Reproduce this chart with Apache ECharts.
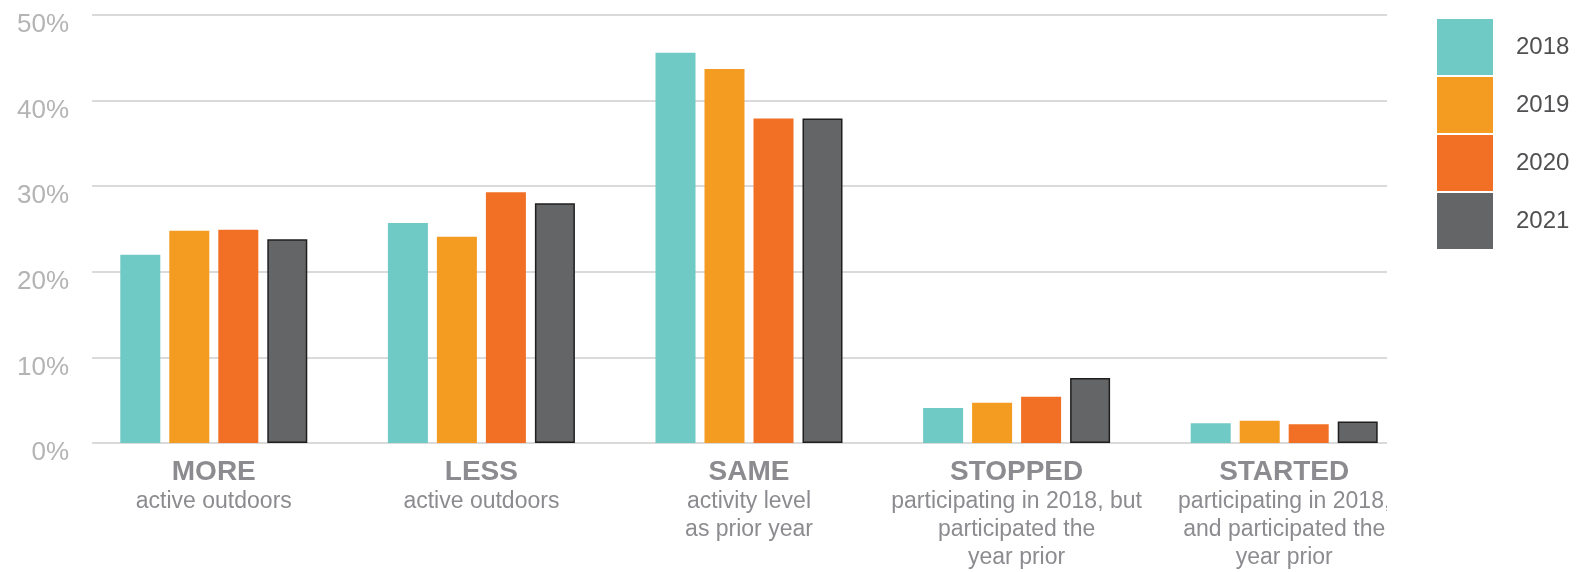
<!DOCTYPE html>
<html>
<head>
<meta charset="utf-8">
<script src="https://cdn.jsdelivr.net/npm/echarts@6/dist/echarts.min.js"></script>
<style>
    html, body { margin: 0; padding: 0; background: #fff; }
    #main { width: 1579px; height: 572px; }
</style>
</head>
<body>
<div id="main"></div>
<script>
// categories (bold title + grey sub lines)
var catTitles = ['MORE', 'LESS', 'SAME', 'STOPPED', 'STARTED'];
var catSubs = [
    ['active outdoors'],
    ['active outdoors'],
    ['activity level', 'as prior year'],
    ['participating in 2018, but', 'participated the', 'year prior'],
    ['participating in 2018,', 'and participated the', 'year prior']
];
var years = ['2018', '2019', '2020', '2021'];
// percent values
var v2018 = [22.0, 25.7, 45.6, 4.1, 2.3];
var v2019 = [24.8, 24.1, 43.7, 4.7, 2.6];
var v2020 = [24.9, 29.3, 37.9, 5.4, 2.2];
var v2021 = [23.8, 28.0, 37.9, 7.6, 2.5];
var yTicks = [0, 10, 20, 30, 40, 50];

var colors = ['#6fc9c4', '#f39c21', '#f26f26', '#646567'];
var font = '"Liberation Sans", Arial, Helvetica, sans-serif';

var chart = echarts.init(document.getElementById('main'));

function barSeries(name, data, i) {
    var s = {
        name: name,
        type: 'bar',
        xAxisIndex: 0,
        yAxisIndex: 0,
        barWidth: 40,
        barGap: '22.5%',
        data: data,
        itemStyle: { color: colors[i] }
    };
    if (i === 3) {
        s.itemStyle.borderColor = '#1f1f1f';
        s.itemStyle.borderWidth = 1.5;
    }
    return s;
}

var option = {
    animation: false,
    textStyle: { fontFamily: font },
    legend: {
        orient: 'vertical',
        left: 1437,
        top: 19,
        padding: 0,
        itemWidth: 56,
        itemHeight: 56,
        itemGap: 2,
        icon: 'rect',
        data: years,
        itemStyle: { borderWidth: 0 },
        textStyle: { fontSize: 24, color: '#505053', padding: [0, 0, 0, 18], fontFamily: font }
    },
    grid: [
        // bars
        { left: 80, right: 161, top: 15, bottom: 129 },
        // grid lines + y labels
        { left: 92, right: 192, top: 15, bottom: 129 }
    ],
    xAxis: [
        {
            type: 'category',
            gridIndex: 0,
            data: catTitles,
            axisLine: { show: false },
            axisTick: { show: false },
            axisLabel: {
                interval: 0,
                margin: 13,
                align: 'center',
                formatter: function (val, idx) {
                    var s = '{t|' + val + '}';
                    catSubs[idx].forEach(function (line) { s += '\n{s|' + line + '}'; });
                    return s;
                },
                rich: {
                    t: { fontSize: 28, fontWeight: 'bold', color: '#8c8b8f', lineHeight: 32, align: 'center', fontFamily: font },
                    s: { fontSize: 23, color: '#8c8b8f', lineHeight: 28, align: 'center', fontFamily: font }
                }
            }
        },
        { type: 'category', gridIndex: 1, data: [''], show: false }
    ],
    yAxis: [
        { type: 'value', gridIndex: 0, min: 0, max: 50, interval: 10, show: false, splitLine: { show: false } },
        {
            type: 'value',
            gridIndex: 1,
            min: yTicks[0],
            max: yTicks[yTicks.length - 1],
            interval: 10,
            axisLine: { show: false },
            axisTick: { show: false },
            splitLine: { lineStyle: { color: '#dadada', width: 2 } },
            axisLabel: {
                margin: 23,
                fontSize: 26,
                lineHeight: 20,
                color: '#b4b4b4',
                verticalAlign: 'top',
                formatter: '{value}%'
            }
        }
    ],
    graphic: [
        // the source image is cut off at the right edge of the plot
        { type: 'rect', left: 1387, top: 448, z: 100, shape: { width: 45, height: 124 }, style: { fill: '#fff' } }
    ],
    series: [
        barSeries('2018', v2018, 0),
        barSeries('2019', v2019, 1),
        barSeries('2020', v2020, 2),
        barSeries('2021', v2021, 3)
    ]
};

chart.setOption(option);
</script>
</body>
</html>
